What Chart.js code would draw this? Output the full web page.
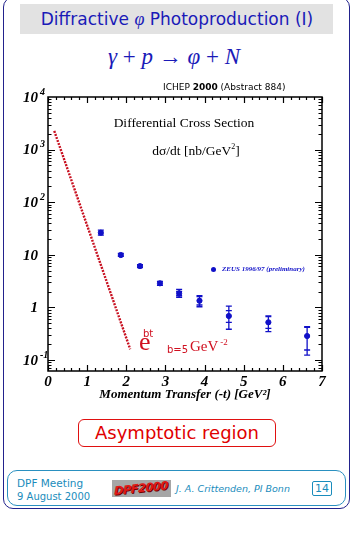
<!DOCTYPE html>
<html>
<head>
<meta charset="utf-8">
<script src="https://cdn.jsdelivr.net/npm/chart.js@4.4.0/dist/chart.umd.min.js"></script>
<style>
  body { margin: 0; width: 363px; height: 535px; background: #fff; position: relative; overflow: hidden; font-family: "DejaVu Sans", sans-serif; }
  .a { position: absolute; white-space: nowrap; line-height: 1; }
  #frame { position: absolute; left: 3px; top: -3px; width: 345px; height: 510px; border: 1.5px solid #22228c; border-radius: 10px; }
  #titlebar { position: absolute; left: 20px; top: 4px; width: 313px; height: 30px; background: #e2e2e2; }
  #wrap { position: absolute; left: 0; top: 80px; width: 363px; height: 330px; }
  .serif { font-family: "Liberation Serif", "Times New Roman", serif; }
  #asym { position: absolute; left: 78px; top: 419px; width: 196px; height: 26px; border: 1px solid #e01010; border-radius: 6px; color: #e00000; font-size: 18px; text-align: center; line-height: 26px; }
  #foot { position: absolute; left: 7px; top: 470px; width: 337px; height: 34px; border: 1px solid #2a90c0; border-radius: 10px; }
  .teal { color: #1a8cbc; }
</style>
</head>
<body>
<div id="frame"></div>
<div id="titlebar"></div>
<div class="a" style="left:0;width:354px;top:10px;text-align:center;font-size:17px;color:#1a1ab8;">Diffractive <i class="serif" style="font-size:18px">&phi;</i> Photoproduction (I)</div>
<div class="a serif" style="left:0;width:348px;top:45px;text-align:center;font-size:23px;color:#1a1ab8;font-style:italic;">&gamma; <span style="font-style:normal">+</span> p <span style="font-style:normal">&rarr;</span> &phi; <span style="font-style:normal">+</span> N</div>

<div id="wrap"><canvas id="chart" width="363" height="330"></canvas></div>

<div class="a" style="left:163px;top:83px;font-size:9px;color:#000;">ICHEP <b>2000</b> (Abstract 884)</div>
<div class="a serif" style="left:84px;width:200px;top:116px;text-align:center;font-size:13.5px;color:#000;">Differential Cross Section</div>
<div class="a serif" style="left:96px;width:200px;top:143px;text-align:center;font-size:13.5px;color:#000;">d&sigma;/dt [nb/GeV<sup style="font-size:8px">2</sup>]</div>
<div class="a" style="left:211px;top:267px;width:5px;height:5px;border-radius:50%;background:#1010c8;"></div>
<div class="a serif" style="left:222px;top:266px;font-size:7px;font-weight:bold;font-style:italic;color:#1010c8;">ZEUS 1996/97 (preliminary)</div>
<div class="a serif" style="left:139px;top:329px;font-size:26px;color:#d01020;">e</div>
<div class="a" style="left:143px;top:329px;font-size:10px;color:#d01020;">bt</div>
<div class="a" style="left:167px;top:345px;font-size:10px;color:#d01020;">b=5</div>
<div class="a serif" style="left:190px;top:339px;font-size:15px;color:#d01020;">GeV<span style="font-size:9px;position:relative;top:-6px;margin-left:2px">-2</span></div>

<div id="asym">Asymptotic region</div>

<div id="foot"></div>
<div class="a teal" style="left:17px;top:478px;font-size:10.5px;">DPF Meeting</div>
<div class="a teal" style="left:17px;top:492px;font-size:10px;">9 August 2000</div>
<div class="a" style="left:112px;top:480px;width:59px;height:17px;background:#a6a6a6;overflow:hidden;">
  <div class="a" style="left:2px;top:3px;font-size:11.5px;font-weight:bold;font-style:italic;color:#e01818;text-shadow:1px 1px 0 #700000;letter-spacing:-0.6px;transform:skewY(-6deg);">DPF2000</div>
</div>
<div class="a teal" style="left:176px;top:484px;font-size:9.5px;font-style:italic;">J. A. Crittenden, PI Bonn</div>
<div class="a teal" style="left:312px;top:481px;width:18px;height:13px;border:1px solid #1a8cbc;border-radius:2px;font-size:11px;text-align:center;line-height:13px;">14</div>

<script>
// Datos de la gráfica
const tValues = [1.35, 1.86, 2.35, 2.86, 3.35, 3.87, 4.62, 5.63, 6.62];
const sigmaValues = [26.3, 9.9, 6.1, 2.87, 1.85, 1.34, 0.687, 0.521, 0.286];
const statLow = [23.6, 9.3, 5.7, 2.63, 1.67, 1.11, 0.521, 0.401, 0.155];
const statHigh = [29.4, 10.6, 6.5, 3.13, 2.02, 1.60, 0.865, 0.666, 0.418];
const totLow = [23.6, 9.3, 5.7, 2.63, 1.56, 1.03, 0.384, 0.345, 0.124];
const totHigh = [29.4, 10.6, 6.5, 3.13, 2.21, 1.67, 1.06, 0.687, 0.430];

// Recta e^bt (extremos)
const slopeT = [0.16, 2.1];
const slopeSigma = [2260, 0.16];

const xTickValues = [0, 1, 2, 3, 4, 5, 6, 7];
const yDecades = [-1, 0, 1, 2, 3, 4];

const BLUE = '#1010c8';
const serifBI = 'bold italic 15px "Liberation Serif", serif';

// Marcas interiores, marco y etiquetas del eje y
const framePlugin = {
  id: 'frame',
  beforeDatasetsDraw(chart) {
    const ctx = chart.ctx;
    const x = chart.scales.x, y = chart.scales.y;
    ctx.save();
    ctx.strokeStyle = BLUE;
    ctx.lineWidth = 1.3;
    for (let i = 0; i < tValues.length; i++) {
      const px = x.getPixelForValue(tValues[i]);
      const lo = y.getPixelForValue(totLow[i]);
      const hi = y.getPixelForValue(totHigh[i]);
      ctx.beginPath();
      ctx.moveTo(px, lo); ctx.lineTo(px, hi);
      [totLow[i], totHigh[i], statLow[i], statHigh[i]].forEach(v => {
        const py = y.getPixelForValue(v);
        ctx.moveTo(px - 3, py); ctx.lineTo(px + 3, py);
      });
      ctx.stroke();
    }
    ctx.restore();
  },
  afterDraw(chart) {
    const ctx = chart.ctx;
    const a = chart.chartArea;
    const x = chart.scales.x, y = chart.scales.y;
    ctx.save();
    ctx.strokeStyle = '#000';
    ctx.lineWidth = 1.2;
    ctx.beginPath();
    // marcas del eje x
    for (let i = 0; i <= 35; i++) {
      const px = Math.round(x.getPixelForValue(i * 0.2)) + 0.5;
      const len = i % 5 === 0 ? 6 : 3;
      ctx.moveTo(px, a.bottom); ctx.lineTo(px, a.bottom - len);
      ctx.moveTo(px, a.top); ctx.lineTo(px, a.top + len);
    }
    // marcas del eje y
    for (let e = -2; e <= 3; e++) {
      for (let m = 1; m <= 9; m++) {
        const v = m * Math.pow(10, e);
        if (v < y.min || v > y.max) continue;
        const py = Math.round(y.getPixelForValue(v)) + 0.5;
        const len = m === 1 ? 7 : 3.5;
        ctx.moveTo(a.left, py); ctx.lineTo(a.left + len, py);
        ctx.moveTo(a.right, py); ctx.lineTo(a.right - len, py);
      }
    }
    ctx.stroke();
    ctx.lineWidth = 1.5;
    ctx.strokeRect(a.left, a.top, a.right - a.left, a.bottom - a.top);

    // etiquetas del eje y
    ctx.fillStyle = '#000';
    ctx.textBaseline = 'middle';
    yDecades.forEach(e => {
      const py = y.getPixelForValue(Math.pow(10, e));
      ctx.font = serifBI;
      ctx.textAlign = 'right';
      const base = e === 0 ? '1' : '10';
      ctx.fillText(base, 38, py + 1);
      if (e !== 0 && e !== 1) {
        ctx.font = 'bold italic 10px "Liberation Serif", serif';
        ctx.textAlign = 'left';
        ctx.fillText(String(e), 40, py - 5);
      }
    });
    ctx.restore();
  }
};

new Chart(document.getElementById('chart'), {
  type: 'scatter',
  data: {
    datasets: [
      {
        label: 'e^bt',
        type: 'line',
        data: slopeT.map((t, i) => ({ x: t, y: slopeSigma[i] })),
        borderColor: '#c81020',
        borderWidth: 2.4,
        borderDash: [2, 1.2],
        pointRadius: 0,
        fill: false
      },
      {
        label: 'ZEUS 1996/97 (preliminary)',
        data: tValues.map((t, i) => ({ x: t, y: sigmaValues[i] })),
        backgroundColor: BLUE,
        borderColor: BLUE,
        pointRadius: 2.6,
        pointStyle: 'circle'
      }
    ]
  },
  options: {
    responsive: false,
    animation: false,
    layout: { padding: { top: 17, right: 41, left: 0, bottom: 0 } },
    plugins: { legend: { display: false }, tooltip: { enabled: false } },
    scales: {
      x: {
        type: 'linear',
        min: 0,
        max: 7,
        afterFit: s => { s.height = 39; },
        afterBuildTicks: s => { s.ticks = xTickValues.map(v => ({ value: v })); },
        grid: { display: false, drawTicks: false },
        border: { display: false },
        ticks: { color: '#000', padding: 2, font: { family: '"Liberation Serif", serif', size: 15, style: 'italic', weight: 'bold' } },
        title: {
          display: true,
          text: 'Momentum Transfer (-t) [GeV²]',
          color: '#000',
          padding: { top: 0, bottom: 8 },
          font: { family: '"Liberation Serif", serif', size: 13, style: 'italic', weight: 'bold' }
        }
      },
      y: {
        type: 'logarithmic',
        min: 0.0618,
        max: 10000,
        afterFit: s => { s.width = 48; },
        grid: { display: false, drawTicks: false },
        border: { display: false },
        ticks: { display: false }
      }
    }
  },
  plugins: [framePlugin]
});
</script>
</body>
</html>
